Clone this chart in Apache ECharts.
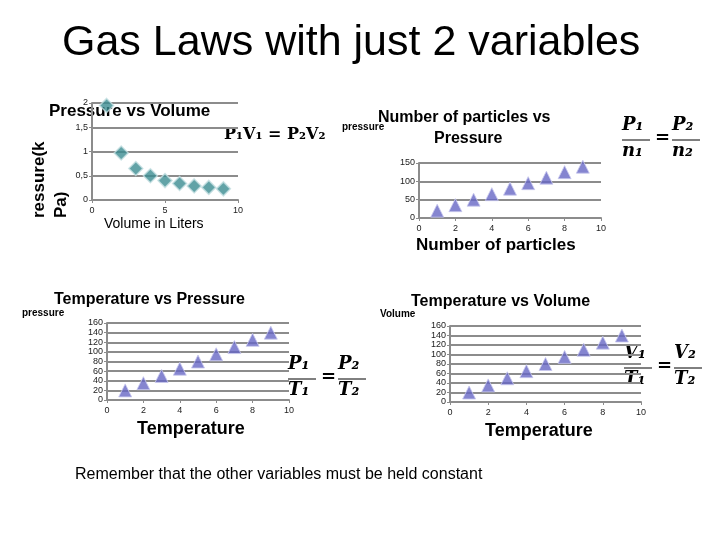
<!DOCTYPE html>
<html><head><meta charset="utf-8">
<script src="https://cdn.jsdelivr.net/npm/echarts@6/dist/echarts.min.js"></script>
<style>html,body{margin:0;background:#fff}#c{width:720px;height:540px}</style>
</head><body><div id="c"></div>
<script>
const xs = [1,2,3,4,5,6,7,8,9];
const pvPressure = [1.95,0.97,0.65,0.5,0.4,0.34,0.29,0.26,0.23];
const npPressure = [20,35,50,65,80,95,110,125,140];
const tpPressure = [20,35,50,65,80,95,110,125,140];
const tvVolume = [20,35,50,65,80,95,110,125,140];

const chart = echarts.init(document.getElementById('c'));
const F = 'Liberation Sans, Arial, sans-serif';
const grids = [
  {left:92, top:103, width:146, height:97},
  {left:419, top:163, width:182, height:55},
  {left:107, top:323, width:182, height:77},
  {left:450, top:326, width:191, height:76}
];
const gridLine = {show:true, lineStyle:{color:'#8c8c8c', width:2}};
const axLine = {show:true, lineStyle:{color:'#8c8c8c', width:2}};
const lbl = {color:'#222', fontSize:9, fontFamily:F, margin:6};
function xAx(i){return {type:'value', gridIndex:i, min:0, max:10, interval: i===0?5:2, axisLine:axLine, axisTick:{show:true,length:3,lineStyle:{color:'#8c8c8c'}}, splitLine:{show:false}, axisLabel:lbl};}
function yAx(i,max,iv,fmt){return {type:'value', gridIndex:i, min:0, max:max, interval:iv, axisLine:axLine, axisTick:{show:true,length:3,lineStyle:{color:'#8c8c8c'}}, splitLine:gridLine, axisLabel:Object.assign({},lbl,{margin:4, formatter:fmt})};}
const tri = {color:'#6666c4', borderColor:'#c8c8ee', borderWidth:1};
const mk = (arr)=>xs.map((x,i)=>[x,arr[i]]);
const T = (x,y,text,size,opt)=>Object.assign({type:'text', x, y, style:Object.assign({text, font:(opt&&opt.fw||'bold')+' '+size+'px '+F, fill:'#000'}, opt&&opt.st||{})}, opt&&opt.el||{});
const FF = 'bold italic 18px DejaVu Serif';
function frac(x,y,A,B){
  return [
    {type:'text', x:x, y:y, style:{text:A+'₁', font:FF, fill:'#000'}},
    {type:'line', shape:{x1:x,y1:y+24,x2:x+28,y2:y+24}, style:{stroke:'#000',lineWidth:1}},
    {type:'text', x:x, y:y+26, style:{text:B+'₁', font:FF, fill:'#000'}},
    {type:'text', x:x+33, y:y+13, style:{text:'=', font:'bold 18px DejaVu Serif', fill:'#000'}},
    {type:'text', x:x+50, y:y, style:{text:A+'₂', font:FF, fill:'#000'}},
    {type:'line', shape:{x1:x+50,y1:y+24,x2:x+78,y2:y+24}, style:{stroke:'#000',lineWidth:1}},
    {type:'text', x:x+50, y:y+26, style:{text:B+'₂', font:FF, fill:'#000'}}
  ];
}
chart.setOption({
  animation:false,
  grid:grids,
  xAxis:[xAx(0),xAx(1),xAx(2),xAx(3)],
  yAxis:[
    yAx(0,2,0.5,v=>String(v).replace('.',',')),
    yAx(1,150,50),
    yAx(2,160,20),
    yAx(3,160,20)
  ],
  series:[
    {type:'scatter', xAxisIndex:0, yAxisIndex:0, symbol:'diamond', symbolSize:14, data:mk(pvPressure), itemStyle:{color:'#3b8c91', borderColor:'#c6e0e2', borderWidth:1.5}},
    {type:'scatter', xAxisIndex:1, yAxisIndex:1, symbol:'triangle', symbolSize:13, data:mk(npPressure), itemStyle:tri},
    {type:'scatter', xAxisIndex:2, yAxisIndex:2, symbol:'triangle', symbolSize:13, data:mk(tpPressure), itemStyle:tri},
    {type:'scatter', xAxisIndex:3, yAxisIndex:3, symbol:'triangle', symbolSize:13, data:mk(tvVolume), itemStyle:tri}
  ],
  graphic:[
    T(62,22,'Gas Laws with just 2 variables',43,{fw:'normal'}),
    T(49,103,'Pressure vs Volume',17),
    T(224,127,'P₁V₁ = P₂V₂',16,{st:{font:'bold 16px DejaVu Serif'}}),
    {type:'text', x:28, y:218, rotation:Math.PI/2, style:{text:'ressure(k\nPa)', font:'bold 17px '+F, fill:'#000', lineHeight:22}},
    T(104,217,'Volume in Liters',14,{fw:'normal'}),
    T(342,122,'pressure',10),
    T(378,110,'Number of particles vs',16),
    T(434,131,'Pressure',16),
    T(416,237,'Number of particles',17),
    ...frac(622,116,'P','n'),
    T(22,308,'pressure',10),
    T(54,292,'Temperature vs Pressure',16),
    T(137,420,'Temperature',18),
    ...frac(288,355,'P','T'),
    T(380,309,'Volume',10),
    T(411,294,'Temperature vs Volume',16),
    T(485,422,'Temperature',18),
    ...frac(624,344,'V','T'),
    T(75,467,'Remember that the other variables must be held constant',16,{fw:'normal'})
  ]
});
</script></body></html>
